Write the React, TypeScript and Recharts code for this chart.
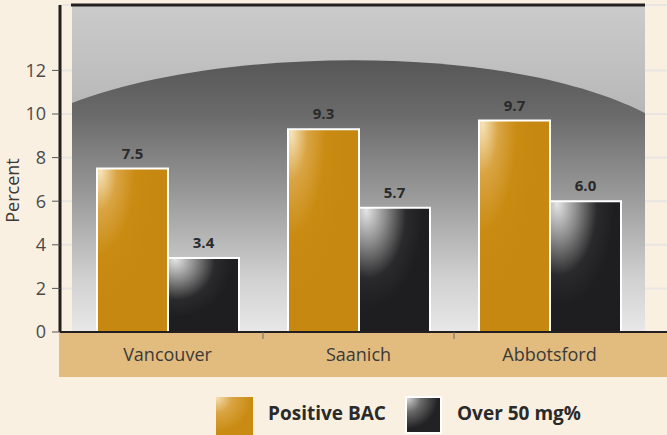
import React from "react";
import { BarChart, Bar, XAxis, YAxis, CartesianGrid, ReferenceArea, LabelList } from "recharts";

const cities = ["Vancouver", "Saanich", "Abbotsford"];
const positiveBac = [7.5, 9.3, 9.7];
const over50 = [3.4, 5.7, 6.0];
const yTicks = [0, 2, 4, 6, 8, 10, 12];

const data = cities.map((c, i) => ({ city: c, pos: positiveBac[i], over: over50[i] }));

const FONT = "'Open Sans', 'Noto Sans', sans-serif";

const Bg = (p: any) => {
  const { x, y, width: w, height: h } = p;
  const px = (f: number) => x + w * f;
  const py = (f: number) => y + h * f;
  const d = `M${x},${py(0.3)} C${px(0.25)},${py(0.13)} ${px(0.75)},${py(0.11)} ${px(1)},${py(0.33)} L${px(1)},${y + h} L${x},${y + h} Z`;
  return (
    <g>
      <rect x={x} y={y} width={w} height={h} fill="url(#bgTop)" />
      <path d={d} fill="url(#bgDark)" />
      <line x1={x - 1} x2={x + w} y1={y} y2={y} stroke="#231f20" strokeWidth={3} />
    </g>
  );
};

const CatTick = (p: any) => {
  const { x, y, payload, index } = p;
  const off = payload?.offset ?? 95.5;
  return (
    <g>
      <text x={x} y={y + 21} textAnchor="middle" fontFamily={FONT} fontSize={18} fill="#3a3a3a">
        {payload.value}
      </text>
      {index > 0 && <line x1={x - off} x2={x - off} y1={y - 8} y2={y - 1} stroke="#6b6b6b" strokeWidth={1} />}
    </g>
  );
};

const labelStyle = { fontFamily: FONT, fontSize: 15, fontWeight: 700, fill: "#2a2a2a" };

export default function App() {
  return (
    <div style={{ position: "fixed", left: 0, top: 0, width: 667, height: 435, overflow: "hidden", background: "#faf0e1", fontFamily: FONT }}>
      <svg width={0} height={0} style={{ position: "absolute" }}>
        <defs>
          <linearGradient id="bgTop" x1="0" y1="0" x2="0" y2="1">
            <stop offset="0" stopColor="#cbcbcb" />
            <stop offset="0.3" stopColor="#b9b9b9" />
            <stop offset="1" stopColor="#b0b0b0" />
          </linearGradient>
          <linearGradient id="bgDark" x1="0" y1="0" x2="0" y2="1">
            <stop offset="0" stopColor="#575757" />
            <stop offset="0.2" stopColor="#6a6a6a" />
            <stop offset="0.5" stopColor="#9a9a9a" />
            <stop offset="0.8" stopColor="#d0d0d0" />
            <stop offset="1" stopColor="#e8e8e8" />
          </linearGradient>
          <radialGradient id="gold" cx="0" cy="0" r="0.8" fx="0.05" fy="0.02">
            <stop offset="0" stopColor="#f6e2b8" />
            <stop offset="0.3" stopColor="#d9a443" />
            <stop offset="0.65" stopColor="#c98b12" />
            <stop offset="1" stopColor="#c68810" />
          </radialGradient>
          <radialGradient id="black" cx="0.15" cy="0.05" r="0.75" fx="0.1" fy="0.02">
            <stop offset="0" stopColor="#e4e4e4" />
            <stop offset="0.35" stopColor="#8a8a8a" />
            <stop offset="0.7" stopColor="#2a2a2c" />
            <stop offset="1" stopColor="#1e1e20" />
          </radialGradient>
        </defs>
      </svg>
      <div style={{ position: "absolute", left: 59, top: 333, width: 620, height: 44, background: "#e2bb7e" }} />
      <div style={{ position: "absolute", left: 0, top: 0 }}>
        <BarChart width={690} height={380} data={data} margin={{ top: 5, right: 0, left: 0, bottom: 0 }} barCategoryGap={25} barGap={0}>
          <ReferenceArea y1={0} y2={15} shape={Bg} ifOverflow="visible" />
          <CartesianGrid vertical={false} stroke="#e2e2e2" strokeOpacity={0.75} strokeWidth={2} />
          <XAxis
            dataKey="city"
            height={48}
            padding={{ left: 12, right: 45 }}
            tickLine={false}
            axisLine={{ stroke: "#231f20", strokeWidth: 2 }}
            tick={<CatTick />}
            interval={0}
          />
          <YAxis
            width={60}
            domain={[0, 15]}
            ticks={yTicks}
            tickSize={8}
            tickMargin={6}
            tickLine={{ stroke: "#555" }}
            axisLine={{ stroke: "#231f20", strokeWidth: 3 }}
            tick={{ fontFamily: FONT, fontSize: 18, fill: "#4a4a4a" }}
            label={{ value: "Percent", angle: -90, position: "insideLeft", dx: 8, dy: 22, style: { fontFamily: FONT, fontSize: 18, fill: "#3a3a3a", textAnchor: "middle" } }}
          />
          <Bar dataKey="pos" fill="url(#gold)" stroke="#ffffff" strokeWidth={2} isAnimationActive={false}>
            <LabelList dataKey="pos" position="top" offset={10} formatter={(v: any) => Number(v).toFixed(1)} style={labelStyle} />
          </Bar>
          <Bar dataKey="over" fill="url(#black)" stroke="#ffffff" strokeWidth={2} isAnimationActive={false}>
            <LabelList dataKey="over" position="top" offset={10} formatter={(v: any) => Number(v).toFixed(1)} style={labelStyle} />
          </Bar>
        </BarChart>
      </div>
      <div style={{ position: "absolute", left: 216, top: 397, width: 37, height: 40, background: "radial-gradient(circle at 0% 0%, #f6e2b8 0%, #d9a443 30%, #c98b12 65%)" }} />
      <div style={{ position: "absolute", left: 268, top: 400, fontSize: 19, fontWeight: 700, color: "#2a2a2a" }}>Positive BAC</div>
      <div style={{ position: "absolute", left: 405, top: 396, width: 33, height: 34, border: "2px solid #fff", background: "radial-gradient(circle at 0% 0%, #d8d8d8 0%, #6a6a6a 30%, #222224 65%)" }} />
      <div style={{ position: "absolute", left: 457, top: 400, fontSize: 19, fontWeight: 700, color: "#2a2a2a" }}>Over 50 mg%</div>
    </div>
  );
}
